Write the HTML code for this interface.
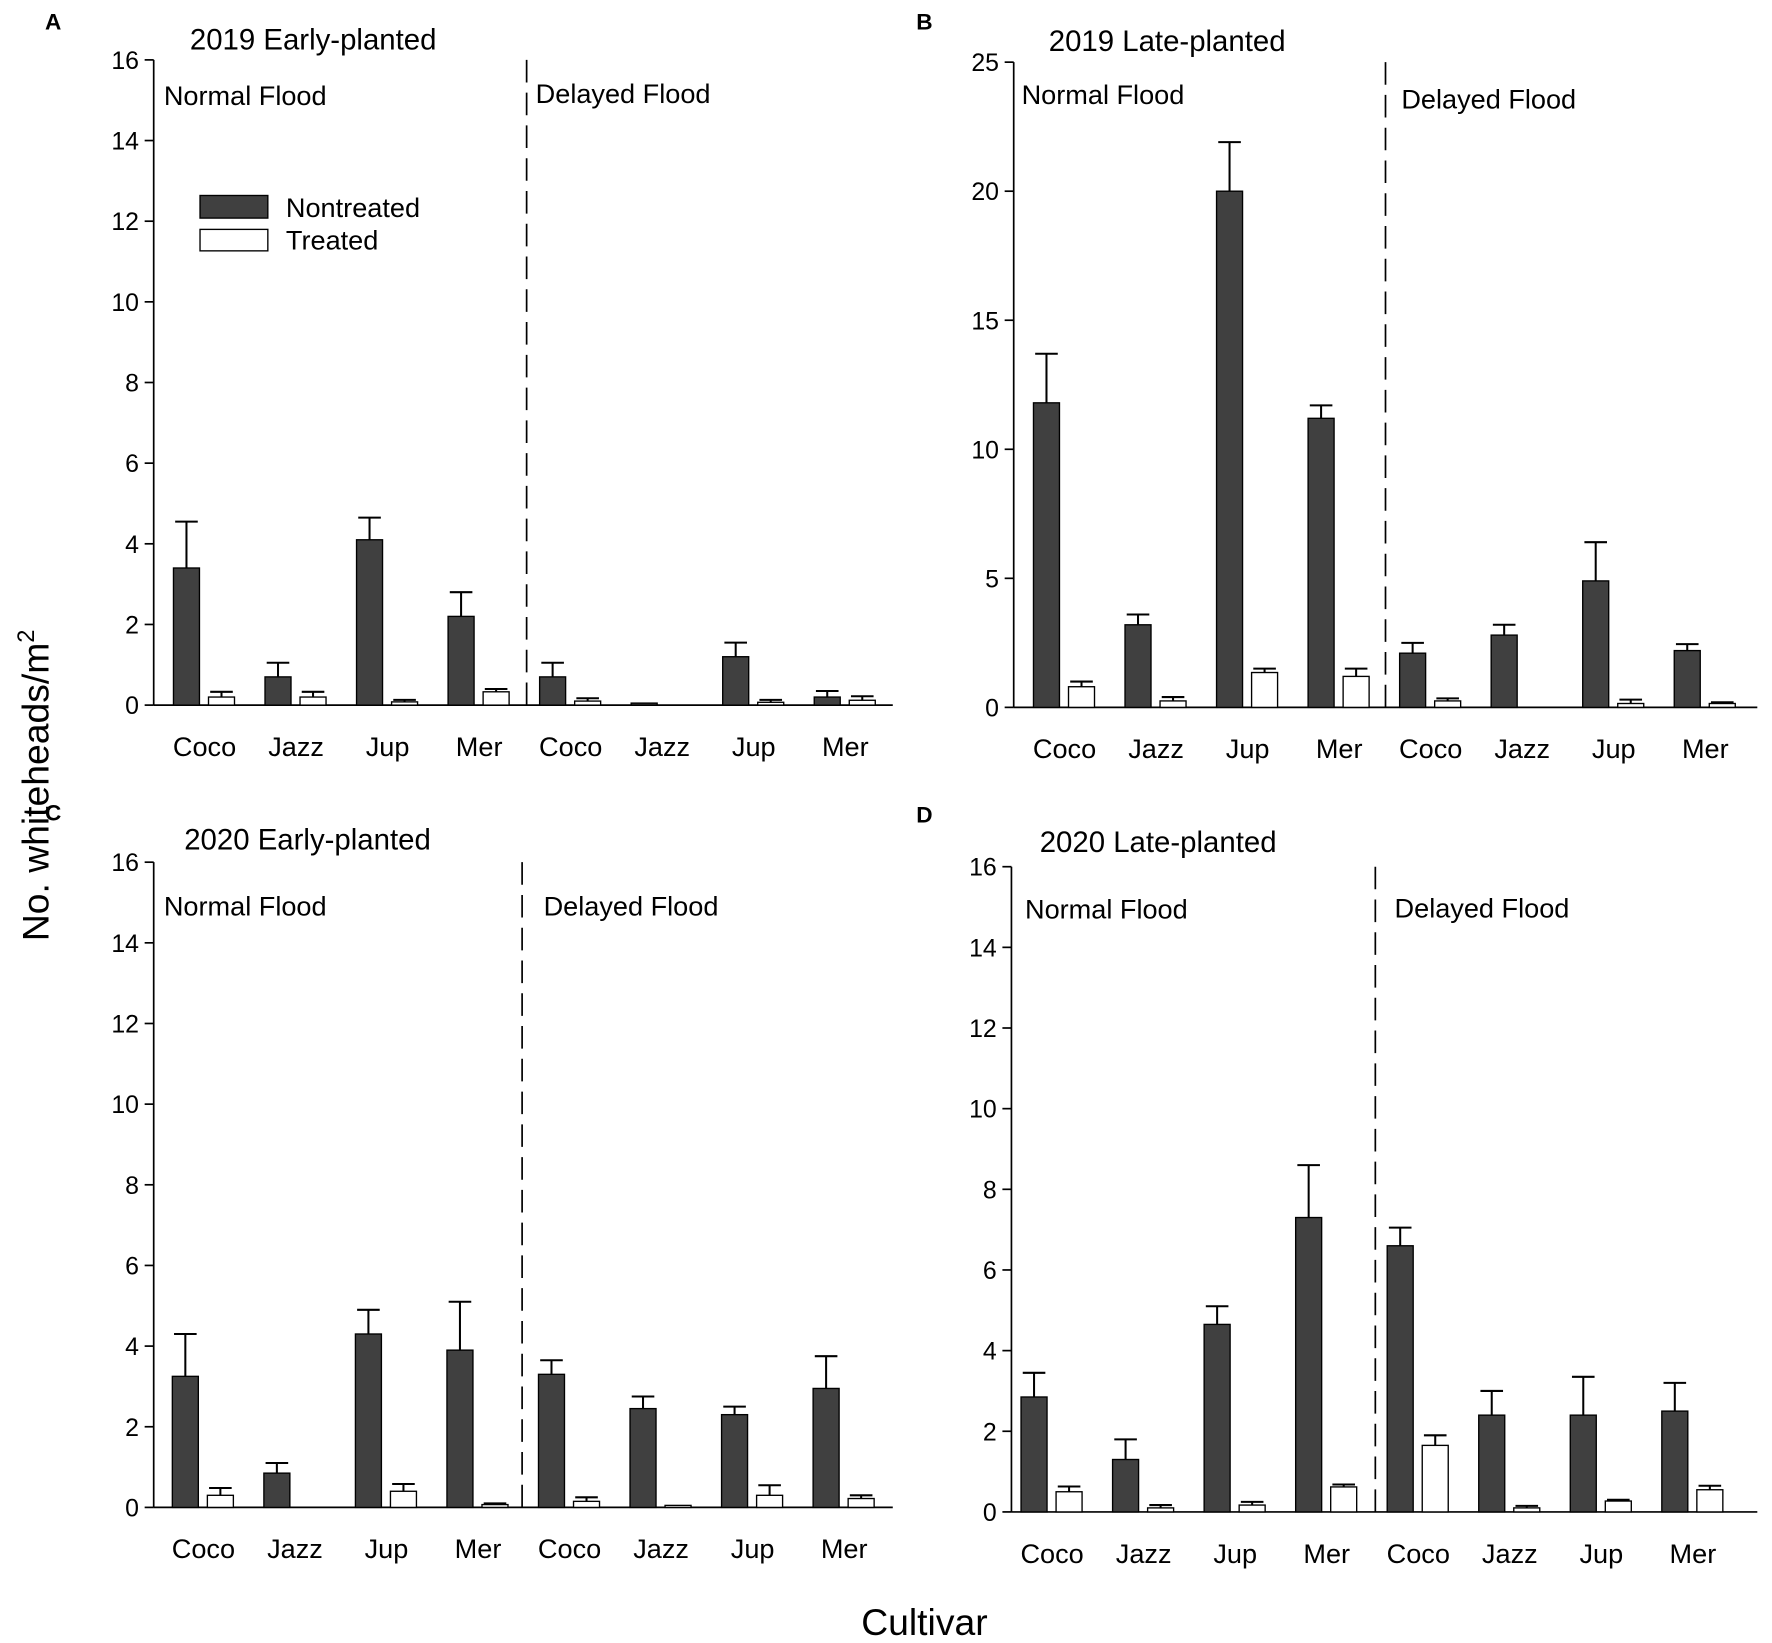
<!DOCTYPE html>
<html><head><meta charset="utf-8"><style>
body{margin:0;background:#fff}
svg{display:block;font-family:"Liberation Sans",Arial,sans-serif}
</style></head><body>
<svg id="fig" width="1772" height="1643" viewBox="0 0 1568 1454" preserveAspectRatio="none" xmlns="http://www.w3.org/2000/svg">
<text transform="translate(43,695) rotate(-90)" text-anchor="middle" font-size="33">No. whiteheads/m<tspan dy="-13" font-size="21">2</tspan></text>
<text x="818" y="1447" text-anchor="middle" font-size="33">Cultivar</text>
</svg>
<script>
const categories = ["Coco","Jazz","Jup","Mer","Coco","Jazz","Jup","Mer"];
const aNon = [3.4,0.7,4.1,2.2,0.7,0.05,1.2,0.2];
const aNonErr = [4.55,1.05,4.65,2.8,1.05,0.05,1.55,0.35];
const aTrt = [0.2,0.2,0.08,0.33,0.1,0,0.07,0.12];
const aTrtErr = [0.33,0.33,0.13,0.4,0.17,0,0.13,0.22];
const bNon = [11.8,3.2,20,11.2,2.1,2.8,4.9,2.2];
const bNonErr = [13.7,3.6,21.9,11.7,2.5,3.2,6.4,2.45];
const bTrt = [0.8,0.25,1.35,1.2,0.25,0,0.15,0.15];
const bTrtErr = [1.0,0.4,1.5,1.5,0.35,0,0.3,0.2];
const cNon = [3.25,0.85,4.3,3.9,3.3,2.45,2.3,2.95];
const cNonErr = [4.3,1.1,4.9,5.1,3.65,2.75,2.5,3.75];
const cTrt = [0.3,0,0.4,0.07,0.15,0.05,0.3,0.22];
const cTrtErr = [0.48,0,0.58,0.1,0.25,0.05,0.55,0.3];
const dNon = [2.85,1.3,4.65,7.3,6.6,2.4,2.4,2.5];
const dNonErr = [3.45,1.8,5.1,8.6,7.05,3.0,3.35,3.2];
const dTrt = [0.5,0.1,0.17,0.62,1.65,0.1,0.27,0.55];
const dTrtErr = [0.63,0.17,0.25,0.68,1.9,0.15,0.3,0.65];
const ticks16 = [0,2,4,6,8,10,12,14,16];
const ticks25 = [0,5,10,15,20,25];

const svg = document.getElementById('fig');
const NS = 'http://www.w3.org/2000/svg';
function mk(tag, attrs, parent){const e=document.createElementNS(NS,tag);for(const k in attrs)e.setAttribute(k,attrs[k]);(parent||svg).appendChild(e);return e;}
function txt(s, attrs, parent){const e=mk('text',attrs,parent);e.textContent=s;return e;}

const panels = [
 {id:'a',letter:'A',title:'2019 Early-planted',axL:136,axR:790,y0:624,yTop:53,max:16,ticks:ticks16,first:181,sp:81,dash:466,tx:168,ty:44,lx:47,ly:26,nfx:145,nfy:93,dfx:474,dfy:91,non:aNon,nonE:aNonErr,trt:aTrt,trtE:aTrtErr,legend:true},
 {id:'b',letter:'B',title:'2019 Late-planted',axL:897,axR:1555,y0:626,yTop:55,max:25,ticks:ticks25,first:942,sp:81,dash:1226,tx:928,ty:45,lx:818,ly:26,nfx:904,nfy:92,dfx:1240,dfy:96,non:bNon,nonE:bNonErr,trt:bTrt,trtE:bTrtErr},
 {id:'c',letter:'C',title:'2020 Early-planted',axL:136,axR:790,y0:1334,yTop:763,max:16,ticks:ticks16,first:180,sp:81,dash:462,tx:163,ty:752,lx:47,ly:726,nfx:145,nfy:810,dfx:481,dfy:810,non:cNon,nonE:cNonErr,trt:cTrt,trtE:cTrtErr},
 {id:'d',letter:'D',title:'2020 Late-planted',axL:895,axR:1555,y0:1338,yTop:767,max:16,ticks:ticks16,first:931,sp:81,dash:1217,tx:920,ty:754,lx:818,ly:728,nfx:907,nfy:813,dfx:1234,dfy:812,non:dNon,nonE:dNonErr,trt:dTrt,trtE:dTrtErr}
];

panels.forEach(p=>{
  const g = mk('g',{});
  
  
  const y = v => p.y0 - v/p.max*(p.y0-p.yTop);
  const x = i => p.first + i*p.sp;
  const lt = txt(p.letter,{x:p.lx,y:p.ly,'font-size':20,'font-weight':'bold','text-anchor':'middle'},g);
  
  
  const t = txt(p.title,{x:p.tx,y:p.ty,'font-size':26},g);
  
  
  const nf = txt('Normal Flood',{x:p.nfx,y:p.nfy,'font-size':24},g);
  
  
  const df = txt('Delayed Flood',{x:p.dfx,y:p.dfy,'font-size':24},g);
  
  
  const ya = mk('line',{x1:p.axL,y1:p.yTop,x2:p.axL,y2:p.y0,stroke:'#000','stroke-width':1.5},g);
  
  
  const xa = mk('line',{x1:p.axL,y1:p.y0,x2:p.axR,y2:p.y0,stroke:'#000','stroke-width':1.5},g);
  
  
  p.ticks.forEach(v=>{
    mk('line',{x1:p.axL-8,y1:y(v),x2:p.axL,y2:y(v),stroke:'#000','stroke-width':1.5},g);
    const tl = txt(String(v),{x:p.axL-13,y:y(v)+8,'font-size':22,'text-anchor':'end'},g);
    
    
  });
  const dl = mk('line',{x1:p.dash,y1:p.yTop,x2:p.dash,y2:p.y0,stroke:'#000','stroke-width':1.5,'stroke-dasharray':'20,9'},g);
  
  
  categories.forEach((c,i)=>{
    const cl = txt(c,{x:x(i),y:p.y0+45,'font-size':24,'text-anchor':'middle'},g);
    
    
    [[p.non[i],p.nonE[i],-16,'#404040','nontreated'],[p.trt[i],p.trtE[i],15,'#fff','treated']].forEach(([v,e,off,fill,nm])=>{
      const cx = x(i)+off, w=23;
      if(e>v){
        mk('line',{x1:cx,y1:y(v),x2:cx,y2:y(e),stroke:'#000','stroke-width':1.8},g);
        mk('line',{x1:cx-10,y1:y(e),x2:cx+10,y2:y(e),stroke:'#000','stroke-width':1.8},g);
      }
      if(v>0){
        const r = mk('rect',{x:cx-w/2,y:y(v),width:w,height:Math.max(p.y0-y(v),1),fill:fill,stroke:'#000','stroke-width':1.2},g);
        
        
      }
    });
  });
  if(p.legend){
    const lg = mk('g',{},g);
    
    
    const r1 = mk('rect',{x:177,y:173,width:60,height:20,fill:'#404040',stroke:'#000','stroke-width':1.2},lg);
    
    
    const t1 = txt('Nontreated',{x:253,y:192,'font-size':24},lg);
    
    
    const r2 = mk('rect',{x:177,y:203,width:60,height:19,fill:'#fff',stroke:'#000','stroke-width':1.2},lg);
    
    
    const t2 = txt('Treated',{x:253,y:221,'font-size':24},lg);
    
    
  }
});
</script>
</body></html>
